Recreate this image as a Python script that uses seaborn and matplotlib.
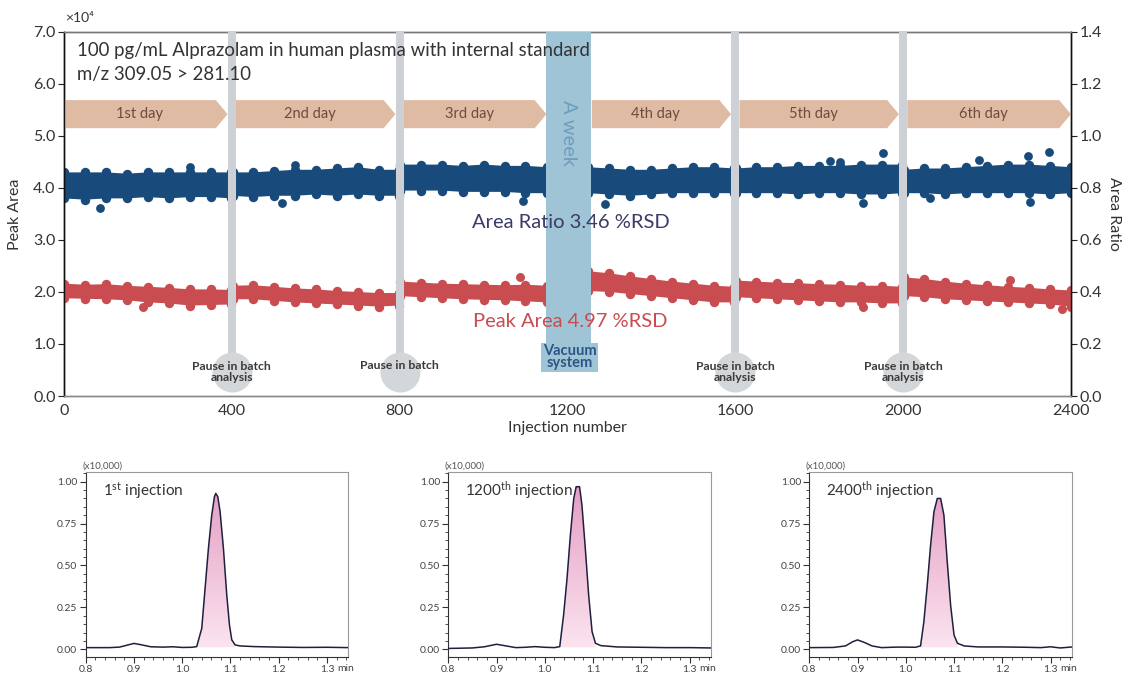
import numpy as np
import pandas as pd
import matplotlib
matplotlib.use("Agg")
import matplotlib.pyplot as plt
import seaborn as sns
from matplotlib.patches import Polygon, Rectangle
from matplotlib.colors import LinearSegmentedColormap
from matplotlib.ticker import MultipleLocator

# ---------------- data ----------------
NAN = np.nan
# envelope sample positions (injection number); NaN = gap of the vacuum-system week
X_ENV = [0, 50, 100, 150, 200, 250, 300, 350, 398,
         402, 450, 500, 550, 600, 650, 700, 750, 798,
         802, 850, 900, 950, 1000, 1050, 1100, 1152,
         NAN,
         1248, 1300, 1350, 1400, 1450, 1500, 1550, 1598,
         1602, 1650, 1700, 1750, 1800, 1850, 1900, 1950, 1998,
         2002, 2050, 2100, 2150, 2200, 2250, 2300, 2350, 2400]
# Peak area (x10^4) upper / lower envelope of the red dot cloud
RED_HI = [2.16, 2.14, 2.15, 2.12, 2.10, 2.08, 2.05, 2.05, 2.04,
          2.12, 2.13, 2.10, 2.07, 2.05, 2.02, 2.00, 1.98, 1.98,
          2.20, 2.18, 2.16, 2.15, 2.14, 2.13, 2.14, 2.12,
          NAN,
          2.40, 2.36, 2.30, 2.25, 2.20, 2.16, 2.12, 2.10,
          2.22, 2.20, 2.18, 2.17, 2.15, 2.14, 2.12, 2.12, 2.10,
          2.28, 2.25, 2.20, 2.16, 2.13, 2.10, 2.08, 2.05, 2.03]
RED_LO = [1.88, 1.87, 1.86, 1.84, 1.80, 1.78, 1.74, 1.75, 1.76,
          1.86, 1.86, 1.83, 1.80, 1.78, 1.76, 1.74, 1.72, 1.74,
          1.92, 1.90, 1.88, 1.86, 1.85, 1.84, 1.82, 1.80,
          NAN,
          2.02, 2.00, 1.96, 1.92, 1.88, 1.84, 1.80, 1.80,
          1.90, 1.88, 1.86, 1.84, 1.82, 1.80, 1.80, 1.78, 1.78,
          1.92, 1.90, 1.86, 1.84, 1.82, 1.80, 1.78, 1.76, 1.72]
# Area ratio upper / lower envelope of the blue dot cloud
BLUE_HI = [0.86, 0.86, 0.86, 0.855, 0.86, 0.86, 0.86, 0.86, 0.86,
           0.86, 0.86, 0.865, 0.87, 0.87, 0.875, 0.88, 0.87, 0.87,
           0.89, 0.89, 0.89, 0.885, 0.89, 0.885, 0.885, 0.88,
           NAN,
           0.88, 0.875, 0.87, 0.87, 0.875, 0.88, 0.88, 0.875,
           0.875, 0.88, 0.88, 0.885, 0.885, 0.885, 0.89, 0.89, 0.89,
           0.87, 0.875, 0.875, 0.88, 0.885, 0.89, 0.89, 0.885, 0.88]
BLUE_LO = [0.76, 0.755, 0.76, 0.76, 0.765, 0.76, 0.765, 0.765, 0.76,
           0.77, 0.765, 0.77, 0.77, 0.775, 0.77, 0.775, 0.77, 0.77,
           0.79, 0.79, 0.79, 0.785, 0.785, 0.785, 0.78, 0.78,
           NAN,
           0.78, 0.775, 0.77, 0.775, 0.78, 0.78, 0.78, 0.78,
           0.78, 0.78, 0.78, 0.775, 0.78, 0.78, 0.775, 0.775, 0.78,
           0.78, 0.78, 0.775, 0.78, 0.78, 0.78, 0.78, 0.775, 0.78]
# isolated dots outside the dense clouds
BLUE_OUT_X = [86, 300, 519, 550, 1094, 1289, 1826, 1849, 1904, 1953, 2064, 2180, 2297, 2302, 2347]
BLUE_OUT_Y = [0.724, 0.882, 0.742, 0.888, 0.751, 0.738, 0.905, 0.90, 0.743, 0.936, 0.76, 0.907, 0.923, 0.746, 0.94]
RED_OUT_X = [189, 1088, 1904, 2254, 2378]
RED_OUT_Y = [1.72, 2.29, 1.71, 2.23, 1.68]

PAUSES = [400, 800, 1600, 2000]
PAUSE_LABELS = ["Pause in batch\nanalysis", "Pause in batch",
                "Pause in batch\nanalysis", "Pause in batch\nanalysis"]
WEEK = (1148, 1256)
DAY_LABELS = ["1st day", "2nd day", "3rd day", "4th day", "5th day", "6th day"]
DAY_SPANS = [(0, 390), (410, 790), (810, 1150), (1258, 1590), (1610, 1990), (2010, 2400)]

X_TICKS = [0, 400, 800, 1200, 1600, 2000, 2400]
Y_TICKS = [0.0, 1.0, 2.0, 3.0, 4.0, 5.0, 6.0, 7.0]
Y2_TICKS = [0.0, 0.2, 0.4, 0.6, 0.8, 1.0, 1.2, 1.4]

# chromatograms (time in min, intensity x10,000)
T1 = [0.800, 0.850, 0.870, 0.885, 0.900, 0.915, 0.935, 0.960, 0.980, 1.000, 1.020, 1.030,
      1.0405, 1.0474, 1.0543, 1.0612, 1.0668, 1.0695, 1.0737, 1.0785, 1.0854, 1.0923,
      1.0979, 1.1027, 1.1096, 1.120, 1.150, 1.200, 1.250, 1.300, 1.345]
I1 = [0.010, 0.010, 0.013, 0.024, 0.035, 0.027, 0.015, 0.013, 0.015, 0.011, 0.012, 0.016,
      0.125, 0.364, 0.602, 0.801, 0.911, 0.930, 0.911, 0.821, 0.602, 0.324,
      0.145, 0.056, 0.026, 0.020, 0.016, 0.013, 0.011, 0.012, 0.010]
T2 = [0.800, 0.850, 0.875, 0.900, 0.920, 0.940, 0.960, 0.980, 1.000, 1.020, 1.031,
      1.039, 1.046, 1.053, 1.060, 1.065, 1.072, 1.077, 1.084, 1.091, 1.098, 1.105,
      1.116, 1.150, 1.200, 1.250, 1.300, 1.345]
I2 = [0.005, 0.008, 0.015, 0.030, 0.020, 0.010, 0.012, 0.016, 0.012, 0.010, 0.016,
      0.205, 0.420, 0.680, 0.900, 0.970, 0.970, 0.860, 0.600, 0.320, 0.105, 0.036,
      0.022, 0.014, 0.012, 0.010, 0.010, 0.008]
T3 = [0.800, 0.850, 0.875, 0.890, 0.900, 0.915, 0.930, 0.950, 0.980, 1.000, 1.020, 1.0306,
      1.0375, 1.0444, 1.0514, 1.0583, 1.0653, 1.0722, 1.079, 1.086, 1.093, 1.100, 1.107,
      1.121, 1.150, 1.200, 1.250, 1.280, 1.300, 1.320, 1.345]
I3 = [0.010, 0.011, 0.020, 0.045, 0.056, 0.040, 0.020, 0.010, 0.013, 0.013, 0.012, 0.020,
      0.165, 0.380, 0.620, 0.820, 0.900, 0.900, 0.800, 0.520, 0.260, 0.085, 0.036,
      0.020, 0.014, 0.014, 0.012, 0.010, 0.015, 0.008, 0.014]
CHROMS = [(T1, I1, "1", "st", (1.030, 1.110)),
          (T2, I2, "1200", "th", (1.031, 1.108)),
          (T3, I3, "2400", "th", (1.030, 1.107))]

# ---------------- style ----------------
sns.set_theme(style="white")
plt.rcParams['font.family'] = ['Lato', 'DejaVu Sans']
plt.rcParams['mathtext.fontset'] = 'custom'
plt.rcParams['mathtext.rm'] = 'Lato'
plt.rcParams['mathtext.it'] = 'Lato:italic'
plt.rcParams['mathtext.bf'] = 'Lato:bold'

BLUE = "#184b7b"
RED = "#c94c50"
TXT = "#333333"
GRAYLINE = "#cdd1d5"

fig = plt.figure(figsize=(11.26, 6.76), dpi=100)
ax = fig.add_axes([0.0568, 0.4142, 0.8943, 0.5385])
ax2 = ax.twinx()
ax.set_zorder(ax2.get_zorder() + 1)
ax.patch.set_visible(False)

ax.set_xlim(0, 2400)
ax.set_ylim(0, 7)
ax2.set_ylim(0, 1.4)

# blue cloud (area ratio) on right axis
ax2.fill_between(X_ENV, BLUE_LO, BLUE_HI, color=BLUE, lw=0, zorder=2)
for yy in (BLUE_HI, BLUE_LO):
    sns.scatterplot(x=X_ENV, y=yy, s=46, color=BLUE, linewidth=0, ax=ax2, zorder=2)
sns.scatterplot(x=BLUE_OUT_X, y=BLUE_OUT_Y, s=40, color=BLUE, linewidth=0, ax=ax2, zorder=2)

# red cloud (peak area) on left axis
ax.fill_between(X_ENV, RED_LO, RED_HI, color=RED, lw=0, zorder=2)
for yy in (RED_HI, RED_LO):
    sns.scatterplot(x=X_ENV, y=yy, s=46, color=RED, linewidth=0, ax=ax, zorder=2)
sns.scatterplot(x=RED_OUT_X, y=RED_OUT_Y, s=42, color=RED, linewidth=0, ax=ax, zorder=2)

# day arrows
for (x0, x1), lab in zip(DAY_SPANS, DAY_LABELS):
    tip = 28
    ylo, yhi = 5.15, 5.69
    ym = (ylo + yhi) / 2
    ax.add_patch(Polygon([(x0, ylo), (x1 - tip, ylo), (x1, ym), (x1 - tip, yhi), (x0, yhi)],
                         closed=True, facecolor="#dfbba4", edgecolor="none", zorder=1))
    ax.text((x0 + x1 - tip) / 2, ym, lab, ha="center", va="center", fontsize=10.5,
            color="#6b4d3c", zorder=5)

# pause lines and circles
ax.vlines(PAUSES, 0.47, 7.0, colors=GRAYLINE, lw=5.8, zorder=4)
ax.scatter(PAUSES, [0.47] * 4, s=830, color="#d4d7da", linewidths=0, zorder=4)
for xp, lab in zip(PAUSES, PAUSE_LABELS):
    yy = 0.47 if "\n" in lab else 0.58
    ax.text(xp, yy, lab, ha="center", va="center", fontsize=8.8, fontweight="bold",
            color="#3a3a3a", linespacing=1.0, zorder=6)

# week band
ax.add_patch(Rectangle((WEEK[0], 1.02), WEEK[1] - WEEK[0], 7.0 - 1.02,
                       facecolor="#9fc4d5", edgecolor="none", zorder=4))
ax.add_patch(Rectangle((1138, 0.46), 1273 - 1138, 1.02 - 0.46,
                       facecolor="#9fc4d5", edgecolor="none", zorder=4))
ax.text(1202, 5.06, "A week", rotation=270, ha="center", va="center", fontsize=14.5,
        color="#6d9ebd", zorder=6)
ax.text(1205, 0.75, "Vacuum\nsystem", ha="center", va="center", fontsize=10.5,
        fontweight="bold", color="#2b5585", linespacing=0.9, zorder=6)

# annotations
ax.text(31, 6.65, "100 pg/mL Alprazolam in human plasma with internal standard",
        ha="left", va="center", fontsize=13.4, color="#333333", zorder=6)
ax.text(31, 6.19, "m/z 309.05 > 281.10", ha="left", va="center", fontsize=13.4,
        color="#333333", zorder=6)
ax.text(1208, 3.33, "Area Ratio 3.46 %RSD", ha="center", va="center", fontsize=14.5,
        color="#3b3a68", zorder=6)
ax.text(1206, 1.44, "Peak Area 4.97 %RSD", ha="center", va="center", fontsize=14.5,
        color=RED, zorder=6)

# axes styling
ax.set_xticks(X_TICKS)
ax.set_yticks(Y_TICKS)
ax.set_yticklabels([f"{v:.1f}" for v in Y_TICKS])
ax2.set_yticks(Y2_TICKS)
ax2.set_yticklabels([f"{v:.1f}" for v in Y2_TICKS])
for a in (ax, ax2):
    a.tick_params(axis="both", which="major", direction="out", length=4, width=0.8,
                  labelsize=11.5, labelcolor=TXT, color="#222222", pad=2)
    for s in a.spines.values():
        s.set_linewidth(1.0)
    a.spines["top"].set_color("#777777")
    a.spines["bottom"].set_color("#888888")
    a.spines["left"].set_color("#111111")
    a.spines["right"].set_color("#111111")
ax.tick_params(axis="x", color="#888888")
ax.set_xlabel("Injection number", fontsize=11.5, color=TXT, labelpad=2)
ax.set_ylabel("Peak Area", fontsize=11.5, color=TXT, labelpad=8)
ax2.set_ylabel("Area Ratio", fontsize=11.5, color=TXT, rotation=270, labelpad=14)
fig.text(0.0577, 0.973, "×10⁴", fontsize=10, color=TXT, ha="left", va="center")

# ---------------- chromatograms ----------------
grad = LinearSegmentedColormap.from_list("pk", ["#fbe4ef", "#e49cc3"])
lefts = [0.0761, 0.3981, 0.7187]
for (tt, ii, num, sup, (f0, f1)), lx in zip(CHROMS, lefts):
    cax = fig.add_axes([lx, 0.0286, 0.2330, 0.2737])
    df = pd.DataFrame({"t": tt, "i": ii})
    tt_a = np.array(tt)
    ii_a = np.array(ii)
    m = (tt_a >= f0) & (tt_a <= f1)
    poly = cax.fill_between(tt_a[m], 0.012, ii_a[m], color="none", lw=0)
    img = cax.imshow(np.linspace(0, 1, 100).reshape(-1, 1), extent=[f0, f1, 0.0, 1.0],
                     origin="lower", aspect="auto", cmap=grad, zorder=1)
    img.set_clip_path(poly.get_paths()[0], transform=cax.transData)
    sns.lineplot(data=df, x="t", y="i", ax=cax, color="#1f1f3f", lw=1.1,
                 sort=False, estimator=None, zorder=3)
    cax.set_xlim(0.8, 1.3436)
    cax.set_ylim(-0.044, 1.06)
    cax.set_xlabel("")
    cax.set_ylabel("")
    cax.set_xticks([0.8, 0.9, 1.0, 1.1, 1.2, 1.3])
    cax.set_xticklabels(["0.8", "0.9", "1.0", "1.1", "1.2", "1.3"])
    cax.set_yticks([0.0, 0.25, 0.5, 0.75, 1.0])
    cax.set_yticklabels(["0.00", "0.25", "0.50", "0.75", "1.00"])
    cax.xaxis.set_minor_locator(MultipleLocator(0.02))
    cax.yaxis.set_minor_locator(MultipleLocator(0.05))
    cax.tick_params(axis="both", which="major", direction="out", length=4, width=0.8,
                    labelsize=7.5, labelcolor="#444444", color="#333333", pad=2)
    cax.tick_params(axis="both", which="minor", direction="out", length=2, width=0.6,
                    color="#333333")
    cax.tick_params(axis="x", which="both", bottom=True)
    cax.tick_params(axis="y", which="both", left=True)
    cax.spines["left"].set_color("#333333")
    cax.spines["bottom"].set_color("#333333")
    cax.spines["top"].set_color("#9a9a9a")
    cax.spines["right"].set_color("#9a9a9a")
    for s in cax.spines.values():
        s.set_linewidth(0.8)
    cax.text(-0.014, 1.032, "(x10,000)", transform=cax.transAxes, fontsize=7,
             color="#555555", ha="left", va="center")
    cax.text(1.338, -0.065, "min", transform=cax.get_xaxis_transform(), fontsize=7.5,
             color="#444444", ha="center", va="center")
    cax.text(0.835, 0.95, num + r"$^{\mathrm{" + sup + r"}}$" + " injection", fontsize=11,
             color="#333333", ha="left", va="center")

fig.savefig("out.png", dpi=100)
